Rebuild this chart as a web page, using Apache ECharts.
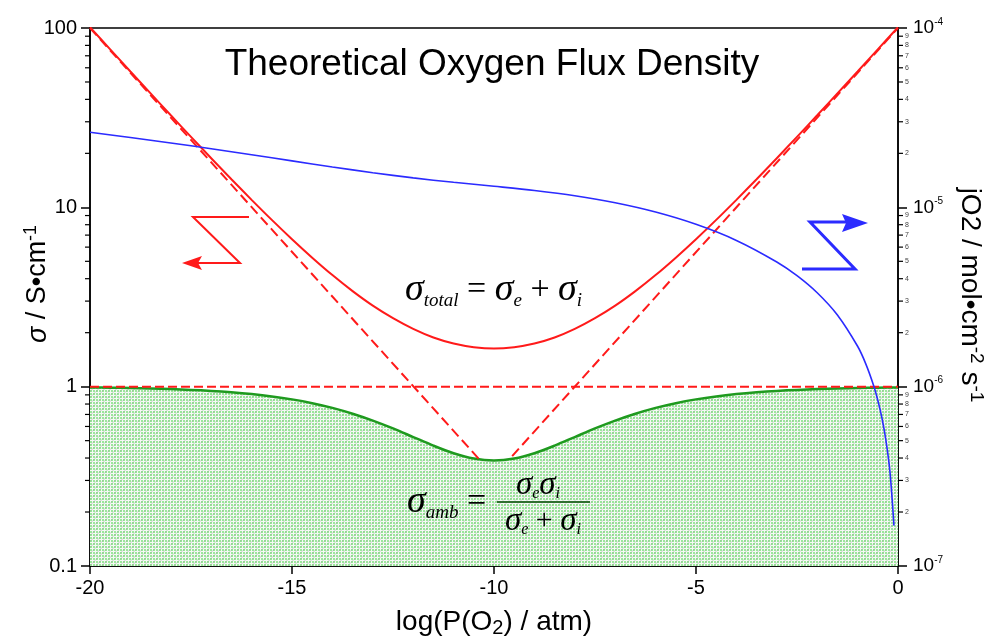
<!DOCTYPE html>
<html><head><meta charset="utf-8">
<script src="https://cdn.jsdelivr.net/npm/echarts@6/dist/echarts.min.js"></script>
<style>html,body{margin:0;padding:0;background:#fff}#c{width:993px;height:637px}</style>
</head><body><div id="c"></div>
<script>
// ---------- data ----------
const xTicks = [-20, -15, -10, -5, 0];
const leftMinorTicks = [0.2,0.3,0.4,0.5,0.6,0.7,0.8,0.9, 2,3,4,5,6,7,8,9, 20,30,40,50,60,70,80,90];
const rightMinorTicks = [2e-7,3e-7,4e-7,5e-7,6e-7,7e-7,8e-7,9e-7, 2e-6,3e-6,4e-6,5e-6,6e-6,7e-6,8e-6,9e-6, 2e-5,3e-5,4e-5,5e-5,6e-5,7e-5,8e-5,9e-5];
const pO2 = [-20,-19.5,-19,-18.5,-18,-17.5,-17,-16.5,-16,-15.5,-15,-14.5,-14,-13.5,-13,-12.5,-12,-11.5,-11,-10.5,-10,
             -9.5,-9,-8.5,-8,-7.5,-7,-6.5,-6,-5.5,-5,-4.5,-4,-3.5,-3,-2.5,-2,-1.5,-1,-0.5,0];
const sigmaTotal = [101.0,76.0,57.23,43.17,32.62,24.72,18.79,14.35,11.01,8.51,6.64,5.24,4.19,3.41,2.83,2.41,2.10,1.88,1.74,1.66,1.63,
                    1.66,1.74,1.88,2.10,2.41,2.83,3.41,4.19,5.24,6.64,8.51,11.01,14.35,18.79,24.72,32.62,43.17,57.23,76.0,101.0];
const sigmaAmb = [0.9901,0.9868,0.9825,0.9768,0.9693,0.9595,0.9468,0.9303,0.9092,0.8825,0.8494,0.8092,0.7616,0.7068,0.6472,0.5851,0.5238,0.4690,0.4253,0.3972,0.3873,
                  0.3972,0.4253,0.4690,0.5238,0.5851,0.6472,0.7068,0.7616,0.8092,0.8494,0.8825,0.9092,0.9303,0.9468,0.9595,0.9693,0.9768,0.9825,0.9868,0.9901];
const sigmaN = [[-20, 100], [-10.35, 0.39]];
const sigmaP = [[-9.55, 0.41], [0, 100]];
const sigmaI = [[-20, 1], [0, 1]];
const fluxX = [-20,-19,-18,-17,-16,-15,-14,-13,-12,-11,-10,-9,-8,-7,-6,-5,-4,-3,-2.5,-2,-1.5,-1,-0.8,-0.6,-0.5,-0.4,-0.3,-0.2,-0.1];
const fluxJ = [2.62e-5,2.452e-5,2.286e-5,2.123e-5,1.965e-5,1.816e-5,1.679e-5,1.559e-5,1.459e-5,1.379e-5,1.310e-5,1.241e-5,1.160e-5,1.060e-5,
               9.41e-6,8.04e-6,6.54e-6,4.96e-6,4.16e-6,3.34e-6,2.51e-6,1.68e-6,1.345e-6,1.01e-6,8.4e-7,6.73e-7,5.04e-7,3.37e-7,1.68e-7];

// ---------- styles ----------
const RED = '#ff1a1a', BLUE = '#2b2bff', GREEN = '#1f9a1f', GTXT = '#3aa33a';
const SANS = '"Liberation Sans", Arial, Helvetica, sans-serif';
const SERIF = '"Liberation Serif", "Times New Roman", serif';

function makePattern() {
  const c = document.createElement('canvas'); c.width = 12; c.height = 12;
  const g = c.getContext('2d');
  g.fillStyle = '#f5faf5'; g.fillRect(0, 0, 12, 12);
  g.fillStyle = '#9be89b';
  for (let x = 0; x < 12; x += 3) for (let y = 0; y < 12; y += 3) g.fillRect(x, y, 2, 2);
  g.fillStyle = 'rgba(120,120,120,0.16)';
  for (let x = 0; x < 12; x++) for (let y = 0; y < 12; y++) if ((x + y) % 6 < 2) g.fillRect(x, y, 1, 1);
  return c;
}

const chart = echarts.init(document.getElementById('c'), null, {renderer: 'canvas'});

function tickSeries(values, yIdx, side, len, withLabels) {
  return {
    type: 'custom', xAxisIndex: 0, yAxisIndex: yIdx, clip: false, silent: true, z: 20,
    data: values.map(v => [side === 'left' ? -20 : 0, v]),
    renderItem(params, api) {
      const v = api.value(1);
      const p = api.coord([api.value(0), v]);
      const dir = side === 'left' ? -1 : 1;
      const kids = [{type: 'line', shape: {x1: p[0], y1: p[1], x2: p[0] + dir * len, y2: p[1]},
                     style: {stroke: '#000', lineWidth: 1.2}}];
      if (withLabels) {
        const m = Math.round(v / Math.pow(10, Math.floor(Math.log10(v) + 1e-9)));
        kids.push({type: 'text', style: {text: String(m), x: p[0] + dir * (len + 2), y: p[1],
                   fontSize: 7, fontFamily: SANS, fill: '#444', verticalAlign: 'middle', align: 'left'}});
      }
      return {type: 'group', children: kids};
    }
  };
}

const option = {
  animation: false,
  backgroundColor: '#fff',
  grid: {left: 90, right: 95, top: 28, bottom: 71, containLabel: false, outerBoundsMode: 'none',
         show: true, borderColor: '#000', borderWidth: 1.5, backgroundColor: 'transparent'},
  xAxis: {
    type: 'value', min: -20, max: 0, interval: 5,
    axisLine: {show: true, onZero: false, lineStyle: {color: '#000', width: 1.5}},
    axisTick: {show: true, inside: false, length: 8, lineStyle: {color: '#000', width: 1.5}},
    axisLabel: {color: '#000', fontSize: 20, fontFamily: SANS, margin: 12,
                formatter: v => xTicks.includes(v) ? String(v) : ''},
    splitLine: {show: false},
    name: '{a|log(P(O}{s|2}{a|) / atm)}', nameLocation: 'middle', nameGap: 40,
    nameTextStyle: {rich: {a: {fontSize: 28, fontFamily: SANS, color: '#000', lineHeight: 32},
                           s: {fontSize: 20, fontFamily: SANS, color: '#000', verticalAlign: 'bottom', lineHeight: 20}}}
  },
  yAxis: [{
    type: 'log', logBase: 10, min: 0.1, max: 100,
    axisLine: {show: true, onZero: false, lineStyle: {color: '#000', width: 1.5}},
    axisTick: {show: true, inside: false, length: 9, lineStyle: {color: '#000', width: 1.5}},
    axisLabel: {color: '#000', fontSize: 20, fontFamily: SANS, margin: 13, formatter: v => String(v)},
    splitLine: {show: false}, minorTick: {show: false}
  }, {
    type: 'log', logBase: 10, min: 1e-7, max: 1e-4, position: 'right',
    axisLine: {show: true, onZero: false, lineStyle: {color: '#000', width: 1.5}},
    axisTick: {show: true, inside: false, length: 9, lineStyle: {color: '#000', width: 1.5}},
    axisLabel: {color: '#000', margin: 15,
      formatter: v => '{b|10}{s|' + Math.round(Math.log10(v)) + '}',
      rich: {b: {fontSize: 19, fontFamily: SANS, color: '#000', lineHeight: 22},
             s: {fontSize: 10, fontFamily: SANS, color: '#000', verticalAlign: 'top', lineHeight: 10}}},
    splitLine: {show: false}
  }],
  graphic: [],
  series: [
    {type: 'line', name: 'amb', data: pO2.map((x, i) => [x, sigmaAmb[i]]), smooth: 0.3, symbol: 'none',
     lineStyle: {color: GREEN, width: 2.5}, areaStyle: {origin: 'start', color: {image: makePattern(), repeat: 'repeat'}, opacity: 1}, z: 2},
    {type: 'line', name: 'total', data: pO2.map((x, i) => [x, sigmaTotal[i]]), smooth: 0.3, symbol: 'none',
     lineStyle: {color: RED, width: 2}, z: 4},
    {type: 'line', name: 'sigmaN', data: sigmaN, symbol: 'none', lineStyle: {color: RED, width: 2, type: [10, 5]}, z: 4},
    {type: 'line', name: 'sigmaP', data: sigmaP, symbol: 'none', lineStyle: {color: RED, width: 2, type: [10, 5]}, z: 4},
    {type: 'line', name: 'sigmaI', data: sigmaI, symbol: 'none', lineStyle: {color: RED, width: 2, type: [9, 4]}, z: 5},
    {type: 'line', name: 'flux', yAxisIndex: 1, data: fluxX.map((x, i) => [x, fluxJ[i]]), smooth: 0.3, symbol: 'none',
     lineStyle: {color: BLUE, width: 1.6}, z: 6},
    tickSeries(leftMinorTicks, 0, 'left', 5, false),
    tickSeries(rightMinorTicks, 1, 'right', 5, true)
  ]
};

const serifIt = (size, color) => ({fontSize: size, fontFamily: SERIF, fontStyle: 'italic', color: color});
const formulaRich = (color) => ({
  m: Object.assign(serifIt(38, color), {lineHeight: 40}),
  u: Object.assign(serifIt(34, color), {lineHeight: 40, fontStyle: 'normal'}),
  b: Object.assign(serifIt(19, color), {lineHeight: 19, verticalAlign: 'bottom'}),
  n: Object.assign(serifIt(33, color), {lineHeight: 34}),
  nu: Object.assign(serifIt(30, color), {lineHeight: 34, fontStyle: 'normal'}),
  c: Object.assign(serifIt(16, color), {lineHeight: 16, verticalAlign: 'bottom'})
});

option.graphic = [
  {type: 'text', x: 492, y: 65, style: {text: 'Theoretical Oxygen Flux Density', font: '37px ' + SANS, fill: '#000',
    align: 'center', verticalAlign: 'middle'}},
  // left axis name
  {type: 'text', x: 38, y: 284, rotation: Math.PI / 2, style: {
    text: '{g|σ}{a| / S•cm}{s|-1}', align: 'center', verticalAlign: 'middle',
    rich: {g: {fontSize: 27, fontFamily: SANS, fontStyle: 'italic', fill: '#000', lineHeight: 32},
           a: {fontSize: 27, fontFamily: SANS, fill: '#000', lineHeight: 32},
           s: {fontSize: 18, fontFamily: SANS, fill: '#000', lineHeight: 18, verticalAlign: 'top'}}}},
  // right axis name
  {type: 'text', x: 970, y: 295, rotation: -Math.PI / 2, style: {
    text: '{a|jO2 / mol•cm}{s|-2}{a| s}{s|-1}', align: 'center', verticalAlign: 'middle',
    rich: {a: {fontSize: 28, fontFamily: SANS, fill: '#000', lineHeight: 32},
           s: {fontSize: 19, fontFamily: SANS, fill: '#000', lineHeight: 19, verticalAlign: 'top'}}}},
  // sigma total formula
  {type: 'text', x: 405, y: 290, z: 50, style: {
    text: '{m|σ}{b|total}{u| = }{m|σ}{b|e}{u| + }{m|σ}{b|i}', verticalAlign: 'middle', align: 'left', rich: formulaRich(RED)}},
  // sigma amb formula
  {type: 'text', x: 407, y: 502, z: 50, style: {
    text: '{m|σ}{b|amb}{u| = }', verticalAlign: 'middle', align: 'left', rich: formulaRich(GTXT)}},
  {type: 'text', x: 538, y: 485, z: 50, style: {
    text: '{n|σ}{c|e}{n|σ}{c|i}', verticalAlign: 'middle', align: 'center', rich: formulaRich(GTXT)}},
  {type: 'line', z: 50, shape: {x1: 497, y1: 502, x2: 590, y2: 502}, style: {stroke: '#2f6f2f', lineWidth: 2}},
  {type: 'text', x: 543, y: 521, z: 50, style: {
    text: '{n|σ}{c|e}{nu| + }{n|σ}{c|i}', verticalAlign: 'middle', align: 'center', rich: formulaRich(GTXT)}},
  // red arrow (left axis)
  {type: 'polyline', z: 50, shape: {points: [[249, 217], [193, 217], [240, 263], [196, 263]]},
   style: {stroke: RED, lineWidth: 2, fill: null}},
  {type: 'polygon', z: 50, shape: {points: [[182, 263], [202, 256], [198, 263], [202, 270]]}, style: {fill: RED}},
  // blue arrow (right axis)
  {type: 'polyline', z: 50, shape: {points: [[802, 269], [855, 269], [810, 222], [846, 222]]},
   style: {stroke: BLUE, lineWidth: 3, fill: null}},
  {type: 'polygon', z: 50, shape: {points: [[868, 223], [842, 214], [846, 223], [842, 232]]}, style: {fill: BLUE}}
];

chart.setOption(option);
</script>
</body></html>
